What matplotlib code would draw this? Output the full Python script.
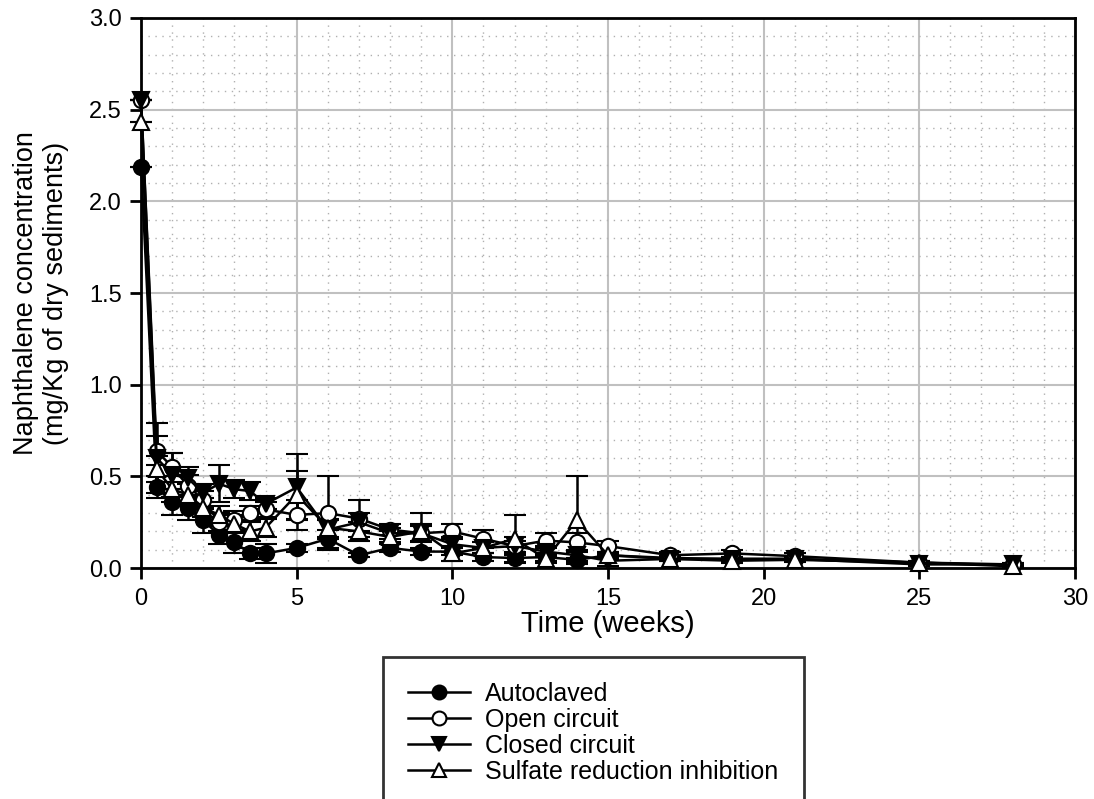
import numpy as np
import matplotlib.pyplot as plt
from matplotlib.ticker import MultipleLocator
from matplotlib.lines import Line2D

plt.rcParams['font.family'] = ['Liberation Sans', 'DejaVu Sans']

# sampling times (weeks)
weeks = [0, 0.5, 1, 1.5, 2, 2.5, 3, 3.5, 4, 5, 6, 7, 8, 9, 10, 11, 12, 13, 14, 15, 17, 19, 21, 25, 28]

# naphthalene concentration (mg/Kg of dry sediments)
autoclaved = [2.19, 0.44, 0.36, 0.33, 0.26, 0.18, 0.14, 0.08, 0.08, 0.11, 0.16, 0.07, 0.11, 0.09, 0.09,
              0.06, 0.055, 0.06, 0.045, 0.07, 0.055, 0.05, 0.05, 0.03, 0.015]
autoclaved_err = [0.0, 0.06, 0.07, 0.07, 0.07, 0.05, 0.06, 0.03, 0.05, 0.02, 0.05, 0.01, 0.02, 0.02, 0.02,
                  0.02, 0.02, 0.02, 0.01, 0.01, 0.01, 0.01, 0.01, 0.005, 0.005]

open_circuit = [2.55, 0.64, 0.55, 0.45, 0.37, 0.25, 0.26, 0.30, 0.32, 0.29, 0.30, 0.27, 0.21, 0.19, 0.20,
                0.16, 0.12, 0.15, 0.14, 0.12, 0.07, 0.08, 0.065, 0.03, 0.02]
open_circuit_err = [0.0, 0.08, 0.08, 0.06, 0.05, 0.05, 0.05, 0.04, 0.04, 0.08, 0.20, 0.10, 0.03, 0.04, 0.04,
                    0.05, 0.03, 0.04, 0.05, 0.03, 0.02, 0.02, 0.02, 0.01, 0.01]

closed_circuit = [2.55, 0.60, 0.51, 0.49, 0.41, 0.46, 0.43, 0.42, 0.35, 0.44, 0.21, 0.25, 0.19, 0.19, 0.13,
                  0.11, 0.12, 0.09, 0.07, 0.04, 0.05, 0.05, 0.05, 0.02, 0.02]
closed_circuit_err = [0.0, 0.19, 0.12, 0.06, 0.05, 0.10, 0.05, 0.05, 0.03, 0.18, 0.05, 0.05, 0.03, 0.05, 0.04,
                      0.03, 0.05, 0.03, 0.03, 0.03, 0.01, 0.01, 0.01, 0.01, 0.01]

sulfate_inhib = [2.43, 0.54, 0.43, 0.40, 0.33, 0.29, 0.24, 0.20, 0.22, 0.40, 0.22, 0.20, 0.17, 0.20, 0.08,
                 0.11, 0.16, 0.05, 0.26, 0.07, 0.05, 0.04, 0.045, 0.03, 0.01]
sulfate_inhib_err = [0.0, 0.07, 0.07, 0.06, 0.05, 0.05, 0.05, 0.05, 0.05, 0.13, 0.05, 0.05, 0.03, 0.10, 0.04,
                     0.03, 0.13, 0.02, 0.24, 0.02, 0.01, 0.01, 0.01, 0.01, 0.01]

series = [
    ('Autoclaved', autoclaved, autoclaved_err, 'o', 'black'),
    ('Open circuit', open_circuit, open_circuit_err, 'o', 'white'),
    ('Closed circuit', closed_circuit, closed_circuit_err, 'v', 'black'),
    ('Sulfate reduction inhibition', sulfate_inhib, sulfate_inhib_err, '^', 'white'),
]

fig = plt.figure(figsize=(10.94, 7.99), dpi=100)
ax = fig.add_axes([0.129, 0.289, 0.8535, 0.6885])

handles = []
for name, vals, err, mk, face in series:
    ax.errorbar(weeks, vals, yerr=err, fmt='-' + mk, color='black', mfc=face, capsize=8, capthick=2,
                elinewidth=1.8, lw=1.8, ms=11, mew=1.5, clip_on=False, zorder=3)
    handles.append(Line2D([], [], color='black', lw=1.8, marker=mk, mfc=face, ms=10, mew=1.5, label=name))

ax.set_xlim(0, 30)
ax.set_ylim(0, 3.0)
ax.xaxis.set_major_locator(MultipleLocator(5))
ax.xaxis.set_minor_locator(MultipleLocator(1))
ax.yaxis.set_major_locator(MultipleLocator(0.5))
ax.yaxis.set_minor_locator(MultipleLocator(0.1))
ax.yaxis.set_major_formatter(plt.FormatStrFormatter('%.1f'))

ax.grid(True, which='major', color='#c0c0c0', lw=1.5, zorder=0)
ax.grid(True, which='minor', color='#b0b0b0', lw=1, linestyle=(0, (1, 4)), zorder=0)
ax.set_axisbelow(True)

for s in ax.spines.values():
    s.set_linewidth(2)
ax.tick_params(which='major', direction='out', length=8, width=2, labelsize=17, pad=6)
ax.tick_params(which='minor', length=0)

ax.set_xlabel('Time (weeks)', fontsize=21, labelpad=0)
ax.set_ylabel('Naphthalene concentration\n(mg/Kg of dry sediments)', fontsize=19.5, labelpad=14)

leg = fig.legend(handles=handles, loc='upper left', bbox_to_anchor=(0.35, 0.178), fontsize=18,
                 frameon=True, fancybox=False, edgecolor='black', handlelength=2.5,
                 handletextpad=0.6, labelspacing=0.08, borderpad=1.0, borderaxespad=0)
leg.get_frame().set_linewidth(2)

plt.savefig('out.png', dpi=100)
